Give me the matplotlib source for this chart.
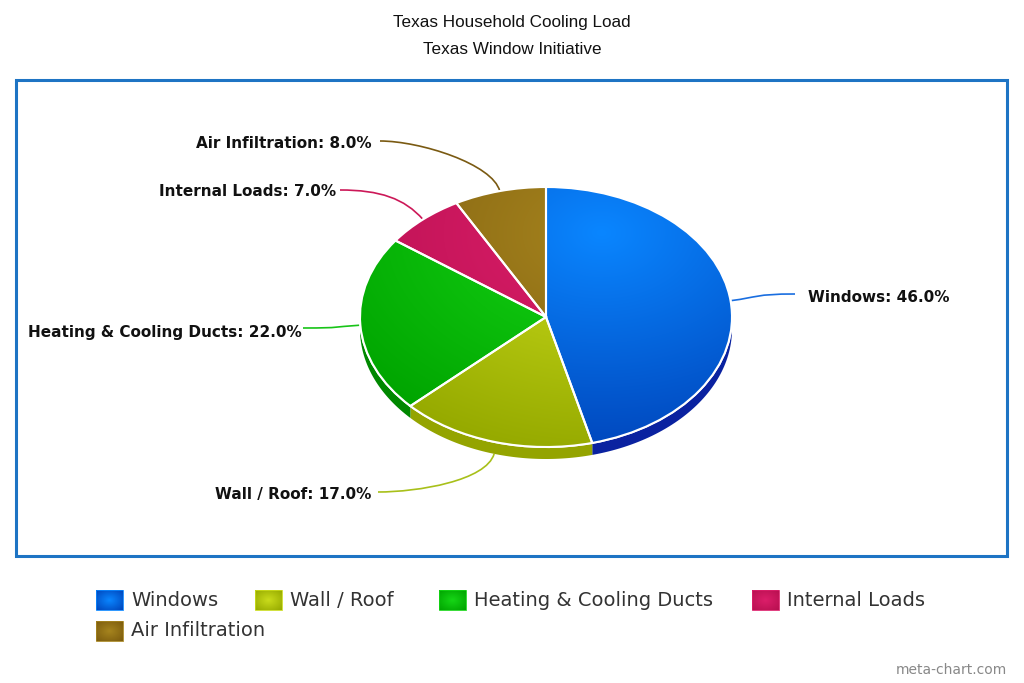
import numpy as np
import matplotlib
matplotlib.use("Agg")
import matplotlib.pyplot as plt
from matplotlib.patches import Wedge, Polygon, Rectangle
from matplotlib.path import Path
from matplotlib.patches import PathPatch

# --- data ---
categories = ["Windows", "Wall / Roof", "Heating & Cooling Ducts", "Internal Loads", "Air Infiltration"]
shares = [46.0, 17.0, 22.0, 7.0, 8.0]

light_colors = ['#0a86ff', '#cadc1c', '#16d616', '#dc1e6a', '#a6841e']
dark_colors = ['#0046bc', '#96aa00', '#00a400', '#b81050', '#7c5c0e']
side_colors = ['#0a22a0', '#94a400', '#008800', '#a00c44', '#6a4c08']
line_colors = ['#1a6ee0', '#a8c01a', '#18c418', '#cc1858', '#7a5a12']

# label anchor (end of leader line) and text position, in pixels
label_end = [(795, 294), (378, 492), (303, 328), (340, 190), (380, 141)]
label_txt = [(808, 297, 'left'), (371, 495, 'right'), (302, 332, 'right'),
             (336, 192, 'right'), (372, 144, 'right')]

# legend layout (pixels)
legend_pos = [(96, 590), (255, 590), (439, 590), (752, 590), (96, 621)]

W, H = 1024, 683
CX, CY, RX, RY = 546, 317, 186, 130
DEPTH = 12

fig = plt.figure(figsize=(W / 100, H / 100), dpi=100)

# overlay axes in pixel coords
ov = fig.add_axes([0, 0, 1, 1])
ov.set_zorder(0)
ov.axis('off')

# pie axes: unit circle maps to the ellipse
ax = fig.add_axes([0, 0, 1, 1])
ax.set_zorder(1)
ax.patch.set_visible(False)

wedges, _ = ax.pie(shares, colors=dark_colors, startangle=90, counterclock=False,
                   radius=1, center=(0, 0), frame=True,
                   wedgeprops=dict(edgecolor='white', linewidth=1.5, zorder=2))

D = DEPTH / RY
# side walls of the front half
for w, sc in zip(wedges, side_colors):
    t1, t2 = w.theta1, w.theta2
    for k in (-360, 0, 360):
        lo, hi = max(t1, 180 + k), min(t2, 360 + k)
        if hi > lo:
            a = np.radians(np.linspace(lo, hi, 60))
            top = np.column_stack([np.cos(a), np.sin(a)])
            bot = np.column_stack([np.cos(a), np.sin(a) - D])[::-1]
            ax.add_patch(Polygon(np.vstack([top, bot]), closed=True, facecolor=sc,
                                 edgecolor='none', zorder=1))

# radial gradient on top faces
gx, gy = np.meshgrid(np.linspace(-1, 1, 400), np.linspace(-1, 1, 400))
dist = np.hypot(gx - 0.3, gy - 0.65)
t = np.clip(dist / 1.7, 0, 1)[..., None]
for w, lc, dc in zip(wedges, light_colors, dark_colors):
    c1 = np.array(matplotlib.colors.to_rgb(lc))
    c2 = np.array(matplotlib.colors.to_rgb(dc))
    img = c1 * (1 - t) + c2 * t
    im = ax.imshow(img, extent=(-1, 1, -1, 1), origin='lower', aspect='auto', zorder=3)
    im.set_clip_path(w)
    ax.add_patch(Wedge(w.center, w.r, w.theta1, w.theta2, facecolor='none',
                       edgecolor='white', linewidth=1.5, zorder=4))

ax.set_aspect('auto')
ax.set_xlim((0 - CX) / RX, (W - CX) / RX)
ax.set_ylim((CY - H) / RY, CY / RY)
ax.axis('off')

# leader lines and labels
for w, cat, val, lc, end, (tx, ty, ha) in zip(wedges, categories, shares, line_colors,
                                               label_end, label_txt):
    m = np.radians((w.theta1 + w.theta2) / 2)
    x0 = CX + RX * np.cos(m)
    y0 = CY - RY * np.sin(m) + (DEPTH if np.sin(m) < -0.3 else 0)
    ux, uy = np.cos(m), -np.sin(m)
    p1 = (x0 + ux * 28, y0 + uy * 28)
    sgn = 1 if end[0] < x0 else -1
    p2 = (end[0] + sgn * 40, end[1])
    path = Path([(x0, y0), p1, p2, end], [Path.MOVETO, Path.CURVE4, Path.CURVE4, Path.CURVE4])
    ov.add_patch(PathPatch(path, facecolor='none', edgecolor=lc, linewidth=1.2))
    ov.text(tx, ty, f"{cat}: {val:.1f}%", ha=ha, va='center', fontsize=11,
            fontweight='bold', family='DejaVu Sans', color='#111111')

# frame
ov.add_patch(Rectangle((16, 80), 991, 476, facecolor='none', edgecolor='#1e74c4', linewidth=2.2))

# titles
ov.text(512, 22, "Texas Household Cooling Load", ha='center', va='center',
        fontsize=12.3, family='Liberation Sans', color='#111111')
ov.text(512, 49, "Texas Window Initiative", ha='center', va='center',
        fontsize=12.3, family='Liberation Sans', color='#111111')

# legend
sx, sy = np.meshgrid(np.linspace(-1, 1, 40), np.linspace(-1, 1, 30))
st = np.clip(np.hypot(sx, sy) / 1.4, 0, 1)[..., None]
for cat, lc, dc, (lx, ly) in zip(categories, light_colors, dark_colors, legend_pos):
    c1 = np.array(matplotlib.colors.to_rgb(lc))
    c2 = np.array(matplotlib.colors.to_rgb(dc))
    ov.imshow(c1 * (1 - st) + c2 * st, extent=(lx, lx + 27, ly + 20, ly), aspect='auto', zorder=2)
    ov.add_patch(Rectangle((lx, ly), 27, 20, facecolor='none', edgecolor=lc, linewidth=0.6, zorder=3))
    ov.text(lx + 35, ly + 10, cat, ha='left', va='center', fontsize=14,
            family='DejaVu Sans', color='#333333')

ov.text(1007, 670, "meta-chart.com", ha='right', va='center', fontsize=10,
        family='DejaVu Sans', color='#888888')

ov.set_xlim(0, W)
ov.set_ylim(H, 0)

fig.savefig("out.png", dpi=100)
